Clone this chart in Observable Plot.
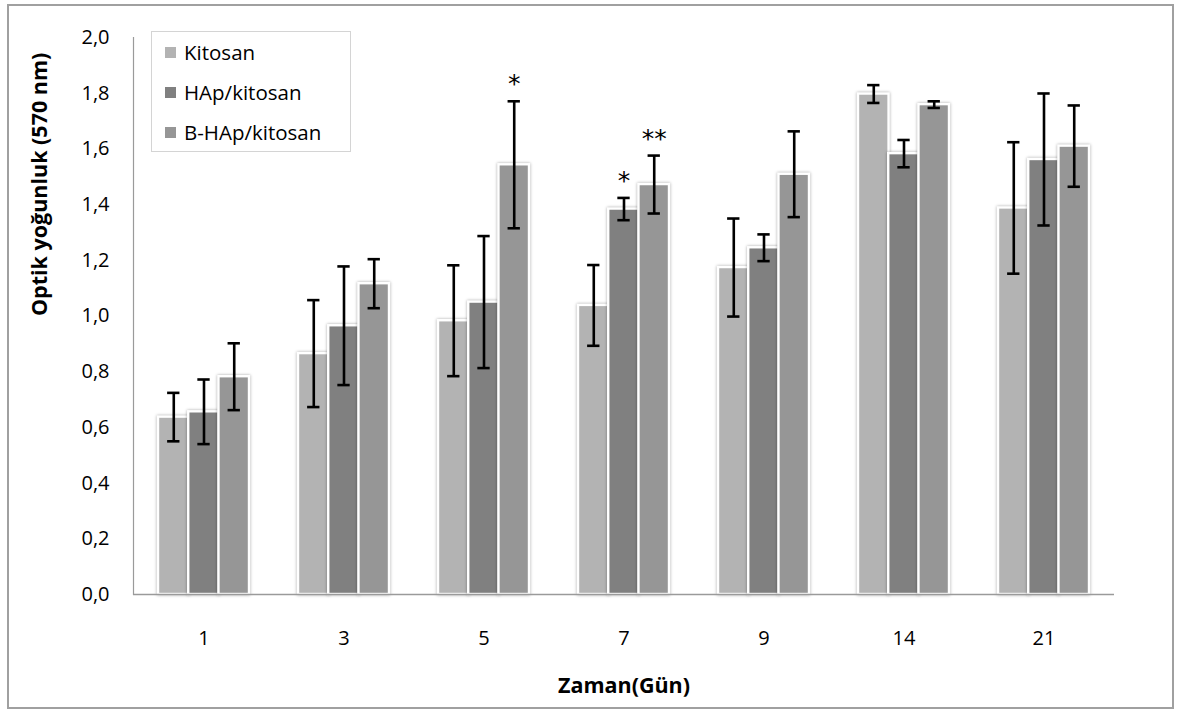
<!DOCTYPE html>
<html>
<head>
<meta charset="utf-8">
<script src="https://cdn.jsdelivr.net/npm/d3@7"></script>
<script src="https://cdn.jsdelivr.net/npm/@observablehq/plot@0.6"></script>
<style>
  html, body { margin: 0; padding: 0; background: #fff; }
  #wrap { position: relative; width: 1181px; height: 715px; overflow: hidden; font-family: "Open Sans", sans-serif; }
  #border { position: absolute; left: 7px; top: 4px; width: 1167px; height: 705px; border: 2px solid #a0a0a0; box-sizing: border-box; pointer-events: none; }
  #legend { position: absolute; left: 151px; top: 31px; width: 200px; height: 121px; border: 1.5px solid #d4d4d4; box-sizing: border-box; background: #fff; }
  .row { position: absolute; left: 13px; height: 26px; display: flex; align-items: center; font-size: 20.5px; color: #000; white-space: nowrap; }
  .sw { width: 11px; height: 11px; margin-right: 8px; }
  .bars { filter: drop-shadow(0px 0px 1.5px rgba(0,0,0,0.35)); }
  svg { position: absolute; left: 0; top: 0; }
</style>
</head>
<body>
<div id="wrap"></div>
<script>
// ---- data ----
const days = ["1", "3", "5", "7", "9", "14", "21"];
const seriesNames = ["Kitosan", "HAp/kitosan", "B-HAp/kitosan"];
const kitosan    = [0.637, 0.865, 0.983, 1.038, 1.174, 1.797, 1.388];
const kitosanErr = [0.087, 0.192, 0.199, 0.145, 0.176, 0.032, 0.236];
const hap        = [0.656, 0.965, 1.050, 1.384, 1.245, 1.583, 1.562];
const hapErr     = [0.116, 0.213, 0.237, 0.040, 0.048, 0.049, 0.237];
const bhap       = [0.782, 1.116, 1.543, 1.472, 1.509, 1.759, 1.610];
const bhapErr    = [0.120, 0.088, 0.228, 0.104, 0.154, 0.012, 0.146];
const colors = ["#b3b3b3", "#808080", "#969696"];
const yTicks = [0, 0.2, 0.4, 0.6, 0.8, 1.0, 1.2, 1.4, 1.6, 1.8, 2.0];
const annotations = [
  {day: "5", series: 2, label: "*"},
  {day: "7", series: 1, label: "*"},
  {day: "7", series: 2, label: "**"}
];

const values = [kitosan, hap, bhap];
const errs = [kitosanErr, hapErr, bhapErr];

// ---- layout ----
const W = 1181, H = 715;
const mL = 133, mR = 67, mT = 37, mB = 121;
const pInner = 0.353;
const step = (W - mL - mR) / days.length;
const bw = step * (1 - pInner);
const sub = bw / 3;
const capHalf = 6;

const rows = [];
seriesNames.forEach((s, i) => {
  days.forEach((d, j) => {
    rows.push({day: d, series: i, name: s, v: values[i][j], e: errs[i][j]});
  });
});

const marks = [];
// bars
seriesNames.forEach((s, i) => {
  marks.push(Plot.barY(rows.filter(r => r.series === i), {
    x: "day", y: "v", fill: colors[i], stroke: "#fff", strokeWidth: 2.4,
    insetLeft: i * sub, insetRight: (2 - i) * sub, className: "bars"
  }));
});
// axis lines
marks.push(Plot.ruleY([0], {stroke: "#9a9a9a", strokeWidth: 1.5}));
marks.push(Plot.frame({anchor: "left", stroke: "#9a9a9a", strokeWidth: 1.2}));
// error bars
seriesNames.forEach((s, i) => {
  const data = rows.filter(r => r.series === i);
  const dx = (i - 1) * sub;
  marks.push(Plot.ruleX(data, {x: "day", y1: r => r.v - r.e, y2: r => r.v + r.e, dx, stroke: "#000", strokeWidth: 2.6}));
  const capOpts = {x: "day", stroke: "#000", strokeWidth: 2.6,
    insetLeft: i * sub + sub / 2 - capHalf, insetRight: (2 - i) * sub + sub / 2 - capHalf};
  marks.push(Plot.tickY(data, {...capOpts, y: r => r.v + r.e}));
  marks.push(Plot.tickY(data, {...capOpts, y: r => r.v - r.e}));
});
// significance marks
annotations.forEach(a => {
  const j = days.indexOf(a.day);
  const top = values[a.series][j] + errs[a.series][j];
  marks.push(Plot.text([a], {x: "day", y: () => top, text: "label", dx: (a.series - 1) * sub, dy: -17,
    fontSize: 25, fill: "#000", lineAnchor: "middle", fontFamily: "DejaVu Sans"}));
});
// axes
marks.push(Plot.axisX({tickSize: 0, tickPadding: 36, fontSize: 20, label: null}));
marks.push(Plot.axisY({ticks: yTicks, tickSize: 0, tickPadding: 24, fontSize: 20,
  tickFormat: d => d.toFixed(1).replace(".", ","), label: null}));
marks.push(Plot.text(["Optik yoğunluk (570 nm)"], {frameAnchor: "left", dx: -93, rotate: -90,
  fontSize: 21.5, fontWeight: "bold", fill: "#000"}));
marks.push(Plot.text(["Zaman(Gün)"], {frameAnchor: "bottom", dy: 98,
  fontSize: 21.5, fontWeight: "bold", fill: "#000"}));

const chart = Plot.plot({
  width: W, height: H,
  marginLeft: mL, marginRight: mR, marginTop: mT, marginBottom: mB,
  style: {fontFamily: "'Open Sans', sans-serif", color: "#000", background: "transparent", overflow: "visible"},
  x: {domain: days, paddingInner: pInner, paddingOuter: pInner / 2, axis: null},
  y: {domain: [0, 2], axis: null},
  marks
});

const wrap = document.getElementById("wrap");
wrap.appendChild(chart);
const border = document.createElement("div");
border.id = "border";
wrap.appendChild(border);

const legend = document.createElement("div");
legend.id = "legend";
seriesNames.forEach((s, i) => {
  const row = document.createElement("div");
  row.className = "row";
  row.style.top = (7 + i * 40) + "px";
  const sw = document.createElement("span");
  sw.className = "sw";
  sw.style.background = colors[i];
  const t = document.createElement("span");
  t.textContent = s;
  row.appendChild(sw);
  row.appendChild(t);
  legend.appendChild(row);
});
wrap.appendChild(legend);
</script>
</body>
</html>
